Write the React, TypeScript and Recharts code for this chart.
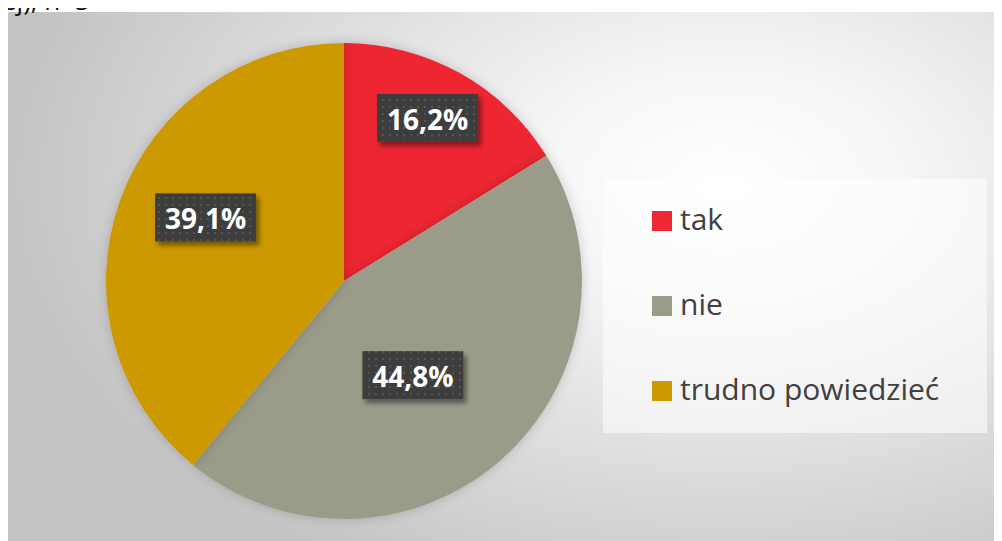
import React from 'react';
import { PieChart, Pie, Cell, Legend } from 'recharts';

const CATEGORIES = ['tak', 'nie', 'trudno powiedzieć'];
const VALUES = [16.2, 44.8, 39.1];
const COLORS = ['#ED2833', '#9B9B8A', '#CC9900'];
const HEADER = 'ej), n=3';

const data = CATEGORIES.map((name, i) => ({ name, value: VALUES[i] }));

const LABEL_RADIUS = [0.77, 0.49, 0.64];
const LABEL_SHIFT = [2, -5, -5];
const RAD = Math.PI / 180;
const FONT = "'Open Sans', 'Noto Sans', sans-serif";

const renderLabel = (props: any) => {
  const { cx, cy, midAngle, outerRadius, index, value } = props;
  const a = (midAngle + LABEL_SHIFT[index]) * RAD;
  const r = outerRadius * LABEL_RADIUS[index];
  const x = cx + r * Math.cos(-a);
  const y = cy + r * Math.sin(-a);
  const text = Number(value).toFixed(1).replace('.', ',') + '%';
  const w = 101;
  const h = 48;
  return (
    <g key={'lbl' + index}>
      <rect x={x - w / 2} y={y - h / 2} width={w} height={h} fill="url(#dots)" filter="url(#boxShadow)" />
      <text x={x} y={y + 12} textAnchor="middle" fill="#ffffff" fontSize={28} fontWeight={700} fontFamily={FONT}>
        {text}
      </text>
    </g>
  );
};

const renderLegend = () => (
  <div
    style={{
      width: 384,
      height: 254,
      background: 'rgba(255,255,255,0.55)',
      display: 'flex',
      flexDirection: 'column',
      fontFamily: FONT,
    }}
  >
    {CATEGORIES.map((c, i) => (
      <div key={c} style={{ flex: 1, display: 'flex', alignItems: 'center', paddingLeft: 49 }}>
        <span style={{ width: 20, height: 20, background: COLORS[i], display: 'inline-block', marginRight: 8 }} />
        <span style={{ fontSize: 30, color: '#404040', lineHeight: '30px', marginTop: -4 }}>{c}</span>
      </div>
    ))}
  </div>
);

export default function App() {
  return (
    <div style={{ position: 'relative' }}>
      <div
        style={{
          position: 'absolute',
          top: -30,
          left: -6,
          fontSize: 26,
          fontFamily: FONT,
          color: '#111',
          whiteSpace: 'nowrap',
        }}
      >
        {HEADER}
      </div>
      <svg width={0} height={0} style={{ position: 'absolute' }}>
        <defs>
          <pattern id="dots" width={7} height={7} patternUnits="userSpaceOnUse">
            <rect width={7} height={7} fill="#3d3d3d" />
            <rect x={3} y={3} width={2} height={2} fill="#545454" />
          </pattern>
          <filter id="boxShadow" x="-20%" y="-20%" width="150%" height="160%">
            <feDropShadow dx={3} dy={4} stdDeviation={2.5} floodColor="#000" floodOpacity={0.45} />
          </filter>
          <filter id="pieShadow" x="-10%" y="-10%" width="120%" height="120%">
            <feDropShadow dx={0} dy={0} stdDeviation={6} floodColor="#000" floodOpacity={0.18} />
          </filter>
        </defs>
      </svg>
      <div
        style={{
          marginTop: 4,
          width: 994,
          height: 529,
          background:
            'radial-gradient(ellipse 72% 85% at 72% 32%, #ffffff 0%, #f6f6f6 25%, #dcdcdc 65%, #c4c4c4 100%)',
        }}
      >
        <PieChart width={994} height={529} margin={{ top: 0, right: 0, bottom: 0, left: 0 }}>
          <Pie
            data={data}
            dataKey="value"
            nameKey="name"
            cx={336}
            cy={269}
            outerRadius={238}
            startAngle={90}
            endAngle={-270}
            stroke="none"
            labelLine={false}
            label={renderLabel}
            isAnimationActive={false}
            style={{ filter: 'url(#pieShadow)' }}
          >
            {data.map((d, i) => (
              <Cell key={d.name} fill={COLORS[i]} />
            ))}
          </Pie>
          <Legend
            layout="vertical"
            align="right"
            verticalAlign="middle"
            wrapperStyle={{ left: 595, top: 167, width: 384, height: 254 }}
            content={renderLegend}
          />
        </PieChart>
      </div>
    </div>
  );
}
